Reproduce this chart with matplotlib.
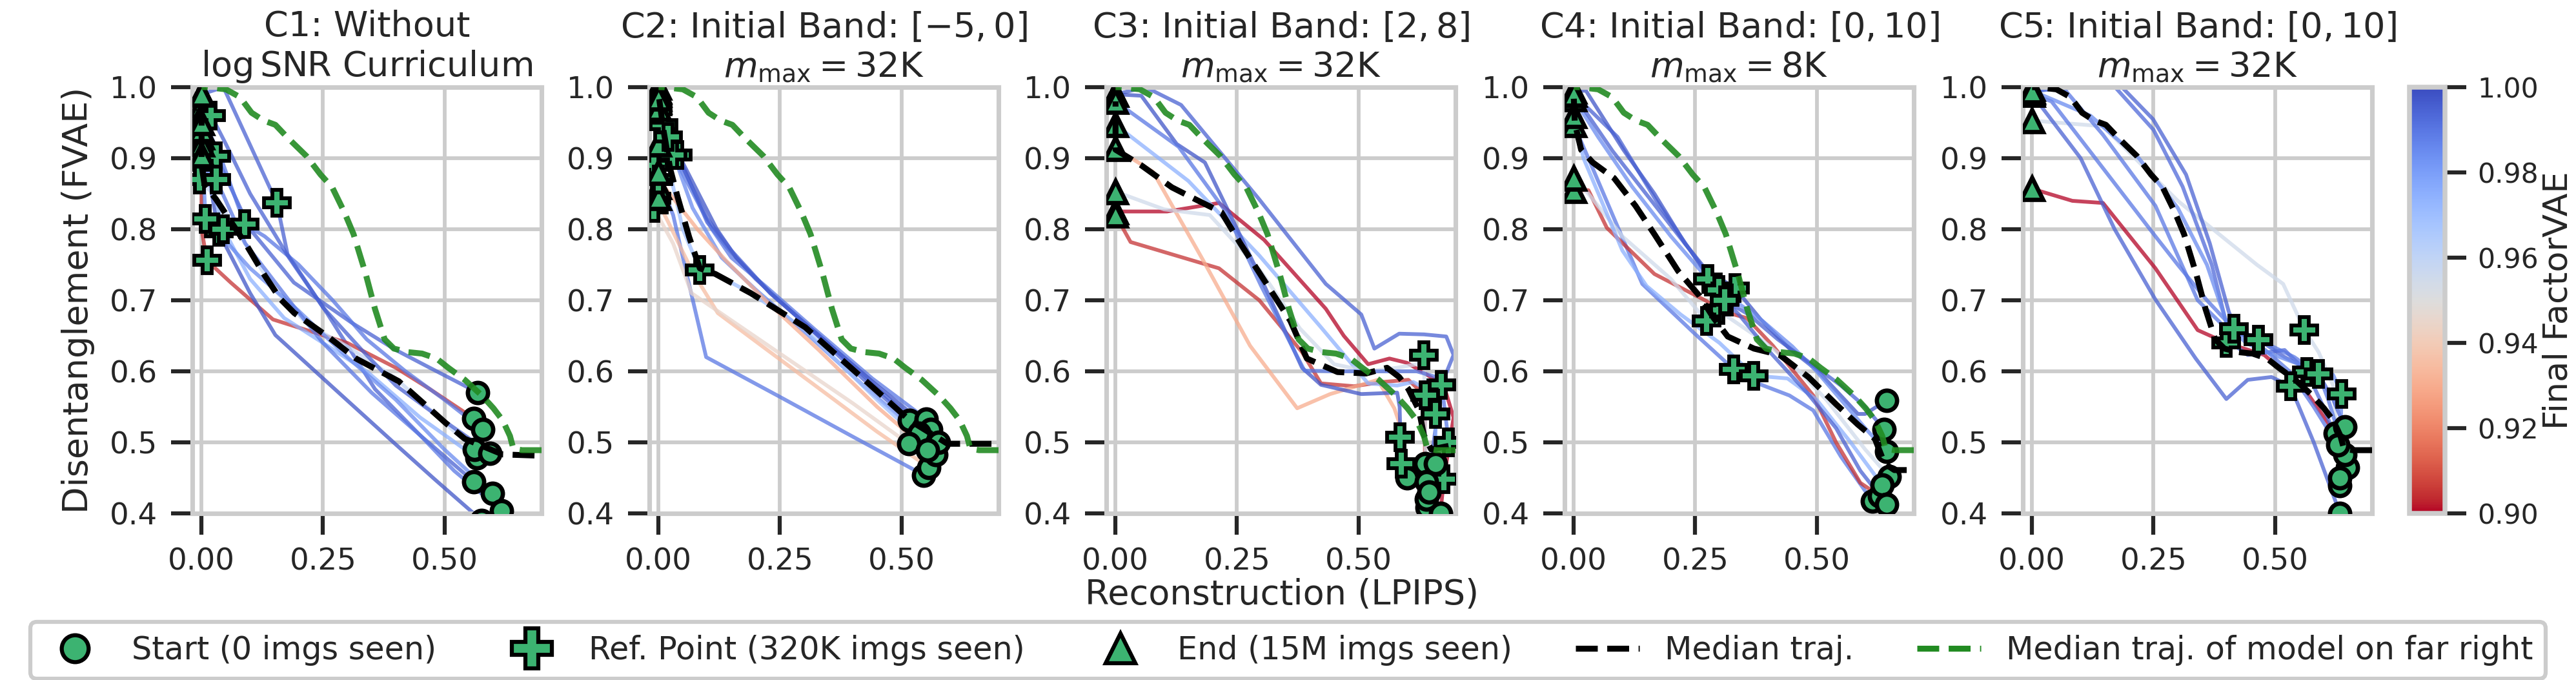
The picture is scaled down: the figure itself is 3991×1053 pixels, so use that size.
import numpy as np
import matplotlib
matplotlib.use("Agg")
import matplotlib.pyplot as plt
from matplotlib.colors import Normalize
from matplotlib.cm import ScalarMappable
from matplotlib.lines import Line2D

# ---------------- data ----------------
# each trajectory runs from start (0 imgs seen) to end (15M imgs seen)
titles = [
    "C1: Without\n$\\log\\mathrm{SNR}$ Curriculum",
    "C2: Initial Band: $[-5, 0]$\n$m_{\\max} = 32$K",
    "C3: Initial Band: $[2, 8]$\n$m_{\\max} = 32$K",
    "C4: Initial Band: $[0, 10]$\n$m_{\\max} = 8$K",
    "C5: Initial Band: $[0, 10]$\n$m_{\\max} = 32$K",
]

c1_x = [
    [0.569, 0.47, 0.40, 0.31, 0.19, 0.10, 0.030, 0.0],
    [0.560, 0.45, 0.357, 0.26, 0.177, 0.155, 0.045, 0.0],
    [0.560, 0.47, 0.40, 0.30, 0.147, 0.06, 0.011, 0.0, 0.0],
    [0.577, 0.48, 0.40, 0.30, 0.152, 0.10, 0.035, 0.0],
    [0.567, 0.45, 0.34, 0.25, 0.17, 0.10, 0.045, 0.0],
    [0.562, 0.48, 0.40, 0.30, 0.22, 0.15, 0.08, 0.03, -0.004, 0.0],
    [0.579, 0.50, 0.42, 0.34, 0.27, 0.20, 0.13, 0.089, 0.04, 0.0],
    [0.594, 0.50, 0.40, 0.33, 0.25, 0.18, 0.10, 0.05, 0.020, 0.0],
    [0.599, 0.50, 0.40, 0.30, 0.20, 0.10, 0.008, 0.0],
    [0.618, 0.52, 0.45, 0.35, 0.25, 0.18, 0.09, 0.03, 0.0],
]
c1_y = [
    [0.570, 0.605, 0.630, 0.668, 0.725, 0.80, 0.903, 0.975],
    [0.445, 0.51, 0.575, 0.68, 0.765, 0.837, 1.0, 0.99],
    [0.534, 0.575, 0.605, 0.64, 0.673, 0.725, 0.756, 0.80, 0.90],
    [0.39, 0.448, 0.497, 0.559, 0.651, 0.71, 0.796, 0.93],
    [0.478, 0.535, 0.60, 0.64, 0.675, 0.73, 0.80, 0.92],
    [0.49, 0.54, 0.59, 0.635, 0.665, 0.715, 0.79, 0.845, 0.870, 0.905],
    [0.518, 0.56, 0.60, 0.645, 0.70, 0.75, 0.79, 0.807, 0.90, 0.96],
    [0.485, 0.53, 0.58, 0.63, 0.69, 0.76, 0.85, 0.92, 0.960, 0.99],
    [0.428, 0.49, 0.56, 0.62, 0.685, 0.745, 0.815, 0.94],
    [0.404, 0.46, 0.51, 0.57, 0.64, 0.70, 0.78, 0.87, 0.95],
]
c1_ref = [6, 5, 6, 6, 6, 8, 7, 8, 6, 7]
c1_final = [0.995, 0.995, 0.905, 0.998, 0.975, 0.958, 0.99, 0.995, 0.985, 0.99]
c1_med_x = [0.75, 0.62, 0.542, 0.503, 0.406, 0.318, 0.26, 0.191, 0.162, 0.128,
            0.094, 0.064, 0.03, 0.006, 0.0, 0.0]
c1_med_y = [0.48, 0.483, 0.505, 0.527, 0.586, 0.618, 0.649, 0.682, 0.702, 0.737,
            0.776, 0.807, 0.842, 0.863, 0.89, 0.96]

c2_x = [
    [0.517, 0.42, 0.30, 0.20, 0.14, 0.10, 0.04, 0.0],
    [0.551, 0.44, 0.32, 0.22, 0.15, 0.11, 0.029, 0.0],
    [0.561, 0.45, 0.33, 0.23, 0.16, 0.12, 0.01, 0.0],
    [0.537, 0.43, 0.31, 0.20, 0.13, 0.07, -0.002, 0.0],
    [0.546, 0.40, 0.25, 0.098, 0.06, 0.03, -0.01, 0.0],
    [0.556, 0.45, 0.35, 0.22, 0.122, 0.07, 0.02, -0.005, 0.0],
    [0.515, 0.40, 0.28, 0.16, 0.068, 0.03, -0.01, 0.0],
    [0.571, 0.45, 0.30, 0.19, 0.117, 0.085, 0.05, 0.02, 0.0],
    [0.576, 0.46, 0.34, 0.23, 0.15, 0.10, 0.02, 0.0],
    [0.554, 0.45, 0.33, 0.22, 0.14, 0.08, 0.0, 0.0],
]
c2_y = [
    [0.531, 0.59, 0.668, 0.73, 0.775, 0.81, 0.905, 0.99],
    [0.533, 0.59, 0.66, 0.72, 0.76, 0.80, 0.905, 0.98],
    [0.518, 0.58, 0.65, 0.71, 0.76, 0.80, 0.947, 1.0],
    [0.513, 0.575, 0.65, 0.715, 0.76, 0.83, 0.968, 0.995],
    [0.454, 0.508, 0.564, 0.620, 0.731, 0.82, 0.89, 0.92],
    [0.465, 0.515, 0.566, 0.632, 0.682, 0.74, 0.81, 0.844, 0.86],
    [0.498, 0.555, 0.611, 0.667, 0.71, 0.78, 0.83, 0.845],
    [0.483, 0.56, 0.66, 0.71, 0.737, 0.743, 0.80, 0.89, 0.97],
    [0.50, 0.57, 0.645, 0.71, 0.77, 0.815, 0.93, 0.985],
    [0.489, 0.55, 0.63, 0.70, 0.755, 0.80, 0.87, 0.88],
]
c2_ref = [6, 6, 6, 6, 6, 7, 6, 5, 6, 6]
c2_final = [0.995, 0.99, 0.998, 0.985, 0.99, 0.935, 0.945, 0.97, 0.995, 0.93]
c2_med_x = [0.75, 0.595, 0.517, 0.424, 0.302, 0.19, 0.117, 0.085, 0.063, 0.039,
            0.024, 0.01, 0.0]
c2_med_y = [0.498, 0.498, 0.531, 0.588, 0.662, 0.71, 0.737, 0.745, 0.789, 0.846,
            0.885, 0.94, 0.99]

c3_x = [
    [0.642, 0.655, 0.671, 0.696, 0.681, 0.635, 0.584, 0.533, 0.506, 0.433, 0.296, 0.135, 0.062, 0.0],
    [0.669, 0.676, 0.696, 0.676, 0.637, 0.60, 0.564, 0.52, 0.47, 0.433, 0.306, 0.213, 0.106, 0.0],
    [0.637, 0.637, 0.603, 0.55, 0.491, 0.423, 0.384, 0.296, 0.213, 0.031, 0.0],
    [0.60, 0.586, 0.583, 0.574, 0.54, 0.442, 0.374, 0.277, 0.179, 0.077, 0.0],
    [0.659, 0.659, 0.64, 0.613, 0.58, 0.52, 0.423, 0.296, 0.15, 0.0],
    [0.64, 0.635, 0.62, 0.58, 0.52, 0.45, 0.38, 0.30, 0.248, 0.194, 0.10, 0.0],
    [0.64, 0.588, 0.585, 0.58, 0.506, 0.423, 0.384, 0.30, 0.184, 0.126, 0.053, 0.0],
    [0.645, 0.686, 0.67, 0.62, 0.55, 0.45, 0.389, 0.30, 0.228, 0.13, 0.0],
]
c3_y = [
    [0.408, 0.50, 0.581, 0.623, 0.649, 0.652, 0.653, 0.632, 0.680, 0.723, 0.842, 0.975, 1.0, 0.99],
    [0.40, 0.448, 0.535, 0.58, 0.597, 0.612, 0.618, 0.61, 0.65, 0.688, 0.785, 0.837, 0.825, 0.825],
    [0.47, 0.566, 0.588, 0.585, 0.579, 0.583, 0.627, 0.70, 0.745, 0.782, 0.82],
    [0.45, 0.507, 0.53, 0.548, 0.588, 0.568, 0.548, 0.636, 0.758, 0.881, 0.914],
    [0.47, 0.54, 0.575, 0.585, 0.58, 0.583, 0.662, 0.763, 0.868, 0.947],
    [0.42, 0.623, 0.61, 0.605, 0.60, 0.61, 0.66, 0.74, 0.78, 0.82, 0.828, 0.853],
    [0.445, 0.47, 0.55, 0.57, 0.568, 0.581, 0.605, 0.73, 0.894, 0.92, 0.988, 0.99],
    [0.43, 0.50, 0.59, 0.60, 0.60, 0.60, 0.601, 0.72, 0.824, 0.916, 0.98],
]
c3_ref = [2, 1, 1, 1, 1, 1, 1, 1]
c3_final = [0.995, 0.90, 0.905, 0.93, 0.975, 0.955, 0.998, 0.99]
c3_med_x = [0.75, 0.70, 0.65, 0.635, 0.625, 0.603, 0.584, 0.559, 0.516, 0.457,
            0.394, 0.36, 0.311, 0.257, 0.218, 0.165, 0.116, 0.053, 0.0, 0.0]
c3_med_y = [0.497, 0.497, 0.49, 0.51, 0.545, 0.575, 0.592, 0.605, 0.597, 0.599,
            0.618, 0.671, 0.723, 0.78, 0.824, 0.842, 0.859, 0.89, 0.912, 0.98]

c4_x = [
    [0.644, 0.60, 0.585, 0.502, 0.444, 0.385, 0.332, 0.27, 0.229, 0.166, 0.102, 0.025, 0.0],
    [0.615, 0.55, 0.493, 0.444, 0.371, 0.329, 0.249, 0.141, 0.08, 0.03, 0.0],
    [0.629, 0.59, 0.54, 0.493, 0.41, 0.356, 0.298, 0.273, 0.166, 0.068, 0.03, 0.0],
    [0.649, 0.60, 0.52, 0.45, 0.385, 0.31, 0.273, 0.20, 0.10, 0.03, 0.0],
    [0.644, 0.60, 0.55, 0.50, 0.45, 0.385, 0.33, 0.276, 0.20, 0.12, 0.05, 0.0],
    [0.639, 0.60, 0.55, 0.48, 0.42, 0.36, 0.31, 0.298, 0.24, 0.16, 0.08, 0.02, 0.0],
    [0.635, 0.57, 0.50, 0.44, 0.371, 0.30, 0.22, 0.15, 0.10, 0.02, 0.0],
    [0.644, 0.59, 0.54, 0.48, 0.40, 0.34, 0.31, 0.25, 0.17, 0.09, 0.0],
]
c4_y = [
    [0.559, 0.54, 0.54, 0.601, 0.632, 0.673, 0.717, 0.745, 0.78, 0.85, 0.912, 0.995, 0.995],
    [0.417, 0.48, 0.545, 0.566, 0.585, 0.603, 0.653, 0.723, 0.82, 0.90, 0.947],
    [0.425, 0.443, 0.50, 0.566, 0.636, 0.675, 0.686, 0.699, 0.737, 0.802, 0.855, 0.855],
    [0.452, 0.49, 0.56, 0.61, 0.645, 0.68, 0.671, 0.73, 0.79, 0.85, 0.872],
    [0.487, 0.52, 0.56, 0.60, 0.635, 0.673, 0.70, 0.730, 0.79, 0.86, 0.93, 0.984],
    [0.518, 0.55, 0.58, 0.615, 0.645, 0.68, 0.70, 0.715, 0.77, 0.84, 0.91, 0.97, 0.99],
    [0.44, 0.50, 0.56, 0.59, 0.594, 0.64, 0.68, 0.72, 0.77, 0.90, 0.96],
    [0.413, 0.46, 0.52, 0.57, 0.63, 0.68, 0.70, 0.76, 0.84, 0.93, 0.99],
]
c4_ref = [6, 5, 6, 6, 7, 7, 4, 6]
c4_final = [0.998, 0.99, 0.905, 0.955, 0.985, 0.995, 0.975, 0.995]
c4_med_x = [0.75, 0.66, 0.64, 0.62, 0.585, 0.541, 0.483, 0.424, 0.371, 0.317,
            0.288, 0.259, 0.215, 0.166, 0.127, 0.083, 0.039, 0.015, 0.002, 0.0]
c4_med_y = [0.461, 0.461, 0.47, 0.505, 0.525, 0.553, 0.592, 0.623, 0.632, 0.649,
            0.675, 0.706, 0.741, 0.793, 0.833, 0.872, 0.894, 0.912, 0.95, 0.985]

c5_x = [
    [0.624, 0.561, 0.478, 0.40, 0.341, 0.254, 0.146, 0.083, 0.0],
    [0.634, 0.62, 0.59, 0.561, 0.517, 0.463, 0.30, 0.146, 0.0],
    [0.644, 0.62, 0.59, 0.52, 0.466, 0.42, 0.405, 0.366, 0.317, 0.249, 0.185, 0.10, 0.0],
    [0.649, 0.60, 0.566, 0.52, 0.444, 0.41, 0.37, 0.31, 0.25, 0.171, 0.05, 0.0],
    [0.644, 0.61, 0.59, 0.54, 0.48, 0.40, 0.341, 0.254, 0.146, 0.063, 0.0],
    [0.629, 0.58, 0.53, 0.48, 0.415, 0.36, 0.30, 0.254, 0.137, 0.04, 0.0],
    [0.634, 0.58, 0.532, 0.493, 0.444, 0.40, 0.337, 0.254, 0.17, 0.10, 0.0],
    [0.634, 0.637, 0.62, 0.59, 0.55, 0.49, 0.44, 0.40, 0.36, 0.30, 0.22, 0.12, 0.0],
]
c5_y = [
    [0.513, 0.575, 0.623, 0.64, 0.658, 0.745, 0.837, 0.84, 0.857],
    [0.439, 0.58, 0.627, 0.658, 0.723, 0.75, 0.84, 0.945, 0.953],
    [0.522, 0.56, 0.596, 0.62, 0.645, 0.66, 0.684, 0.78, 0.877, 0.955, 1.0, 1.0, 0.995],
    [0.465, 0.55, 0.599, 0.63, 0.623, 0.64, 0.75, 0.86, 0.94, 1.0, 1.0, 0.998],
    [0.483, 0.56, 0.596, 0.62, 0.64, 0.66, 0.70, 0.833, 0.933, 1.0, 0.993],
    [0.496, 0.55, 0.60, 0.63, 0.66, 0.70, 0.75, 0.79, 0.894, 0.98, 0.99],
    [0.40, 0.50, 0.579, 0.592, 0.588, 0.561, 0.618, 0.701, 0.80, 0.90, 0.99],
    [0.45, 0.568, 0.595, 0.596, 0.61, 0.625, 0.64, 0.67, 0.75, 0.83, 0.90, 0.96, 0.995],
]
c5_ref = [3, 3, 4, 2, 2, 4, 2, 1]
c5_final = [0.857, 0.955, 0.995, 0.993, 0.99, 0.99, 0.995, 0.985]
# median trajectory of C5 (the model on the far right), also drawn in green elsewhere
c5_med_x = [0.70, 0.66, 0.642, 0.635, 0.62, 0.601, 0.577, 0.542, 0.508, 0.484,
            0.454, 0.425, 0.396, 0.377, 0.357, 0.338, 0.313, 0.294, 0.269, 0.245,
            0.216, 0.177, 0.152, 0.128, 0.103, 0.079, 0.05, 0.011, 0.0]
c5_med_y = [0.489, 0.489, 0.491, 0.509, 0.531, 0.548, 0.566, 0.588, 0.605, 0.618,
            0.625, 0.627, 0.632, 0.645, 0.688, 0.737, 0.793, 0.824, 0.859, 0.877,
            0.903, 0.929, 0.947, 0.953, 0.964, 0.986, 0.997, 1.0, 1.0]

panels = [
    (c1_x, c1_y, c1_ref, c1_final, c1_med_x, c1_med_y),
    (c2_x, c2_y, c2_ref, c2_final, c2_med_x, c2_med_y),
    (c3_x, c3_y, c3_ref, c3_final, c3_med_x, c3_med_y),
    (c4_x, c4_y, c4_ref, c4_final, c4_med_x, c4_med_y),
    (c5_x, c5_y, c5_ref, c5_final, c5_med_x, c5_med_y),
]

# ---------------- style ----------------
plt.rcParams.update({
    "font.family": "DejaVu Sans",
    "mathtext.fontset": "dejavusans",
    "font.size": 11.2,
    "text.color": ".15",
    "axes.labelcolor": ".15",
    "xtick.color": ".15",
    "ytick.color": ".15",
    "xtick.labelsize": 11.2,
    "ytick.labelsize": 11.2,
    "axes.edgecolor": "#cccccc",
    "axes.linewidth": 1.7,
    "grid.color": "#cccccc",
    "grid.linewidth": 1.4,
    "xtick.major.size": 8, "ytick.major.size": 8,
    "xtick.major.width": 1.5, "ytick.major.width": 1.5,
    "xtick.major.pad": 4.5, "ytick.major.pad": 5,
})

W, H = 3991, 1053
fig = plt.figure(figsize=(W / 300, H / 300), dpi=300)

cmap = plt.get_cmap("coolwarm_r")
norm = Normalize(0.90, 1.00)
green_face = "#3cb371"

ax_left_px = [298, 1006, 1714, 2424, 3134]
ax_w_px = 541
ax_top_px, ax_bot_px = 135, 795
bottom = 1 - ax_bot_px / H
height = (ax_bot_px - ax_top_px) / H

for i, (xs, ys, refs, finals, mx, my) in enumerate(panels):
    ax = fig.add_axes([ax_left_px[i] / W, bottom, ax_w_px / W, height])
    for x, y, f in zip(xs, ys, finals):
        ax.plot(x, y, color=cmap(norm(f)), alpha=0.75, lw=1.4, zorder=2)
    for x, y, r in zip(xs, ys, refs):
        ax.plot(x[0], y[0], "o", ms=7.5, mfc=green_face, mec="k", mew=1.6, zorder=4)
        ax.plot(x[r], y[r], "P", ms=9.5, mfc=green_face, mec="k", mew=1.4, zorder=4)
        ax.plot(x[-1], y[-1], "^", ms=8, mfc=green_face, mec="k", mew=1.6, zorder=4)
    if i < 4:
        ax.plot(c5_med_x, c5_med_y, "--", color="#228B22", alpha=0.9, lw=2.2, zorder=6)
    ax.plot(mx, my, "--", color="k", lw=2.2, zorder=5)

    ax.set_xlim(-0.019, 0.70)
    ax.set_ylim(0.4, 1.0)
    ax.set_xticks([0, 0.25, 0.5])
    ax.set_xticklabels(["0.00", "0.25", "0.50"])
    ax.set_yticks([0.4, 0.5, 0.6, 0.7, 0.8, 0.9, 1.0])
    ax.set_yticklabels(["0.4", "0.5", "0.6", "0.7", "0.8", "0.9", "1.0"])
    ax.grid(True)
    ax.set_axisbelow(True)
    ax.tick_params(direction="out")
    ax.set_title(titles[i], fontsize=13, pad=4)

fig.text(121 / W, 1 - (ax_top_px + ax_bot_px) / 2 / H, "Disentanglement (FVAE)",
         rotation=90, ha="center", va="center", fontsize=13, color=".15")
fig.text((ax_left_px[0] + ax_left_px[-1] + ax_w_px) / 2 / W, 1 - 921 / H,
         "Reconstruction (LPIPS)", ha="center", va="center", fontsize=13, color=".15")

# colorbar
cax = fig.add_axes([3733 / W, bottom, 55 / W, height])
cb = fig.colorbar(ScalarMappable(norm=norm, cmap=cmap), cax=cax)
cb.set_ticks([0.90, 0.92, 0.94, 0.96, 0.98, 1.00])
cb.ax.set_yticklabels(["0.90", "0.92", "0.94", "0.96", "0.98", "1.00"], fontsize=10.2)
cb.outline.set_edgecolor("#cccccc")
cb.outline.set_linewidth(1.8)
cb.ax.tick_params(length=8, width=1.5, direction="out", pad=4)
fig.text(3964 / W, 1 - (ax_top_px + ax_bot_px) / 2 / H, "Final FactorVAE",
         rotation=90, ha="center", va="center", fontsize=12.6, color=".15")

# legend
handles = [
    Line2D([], [], ls="none", marker="o", ms=10, mfc=green_face, mec="k", mew=1.5),
    Line2D([], [], ls="none", marker="P", ms=15, mfc=green_face, mec="k", mew=1.5),
    Line2D([], [], ls="none", marker="^", ms=11, mfc=green_face, mec="k", mew=1.5),
    Line2D([], [], ls="--", color="k", lw=2.2),
    Line2D([], [], ls="--", color="#228B22", lw=2.2),
]
labels = ["Start (0 imgs seen)", "Ref. Point (320K imgs seen)", "End (15M imgs seen)",
          "Median traj.", "Median traj. of model on far right"]
leg = fig.legend(handles, labels, loc="lower center", bbox_to_anchor=(0.5, 0.0),
                 borderaxespad=0.05, ncol=5, fontsize=11.8, frameon=True,
                 fancybox=True, framealpha=1)
leg.get_frame().set_edgecolor("0.8")
leg.get_frame().set_linewidth(1.5)

fig.savefig("out.png", dpi=300)
